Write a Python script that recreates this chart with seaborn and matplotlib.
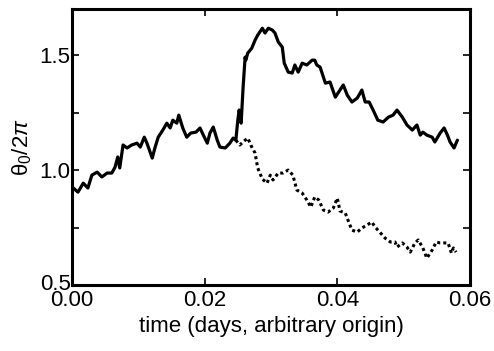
import numpy as np
import pandas as pd
import matplotlib
matplotlib.use("Agg")
import matplotlib.pyplot as plt
from matplotlib.ticker import MultipleLocator
from matplotlib.transforms import ScaledTranslation
import seaborn as sns

# Shared history before the two trajectories separate
t_common = [0.0002, 0.0009, 0.0017, 0.0024, 0.0030, 0.0038, 0.0045, 0.0053, 0.0060,
            0.0065, 0.0069, 0.0072, 0.0077, 0.0083, 0.0090, 0.0098, 0.0103, 0.0109,
            0.0113, 0.0121, 0.0125, 0.0130, 0.0137, 0.0143, 0.0148, 0.0152, 0.0158,
            0.0161, 0.0167, 0.0173, 0.0179, 0.0187, 0.0193, 0.0198, 0.0204, 0.0208,
            0.0213, 0.0219, 0.0223, 0.0231, 0.0238, 0.0243, 0.0247]
theta_common = [0.922, 0.904, 0.943, 0.922, 0.978, 0.991, 0.970, 0.987, 0.987,
                1.013, 1.057, 1.009, 1.109, 1.096, 1.109, 1.117, 1.100, 1.143,
                1.117, 1.052, 1.096, 1.143, 1.174, 1.204, 1.183, 1.217, 1.204,
                1.239, 1.183, 1.143, 1.161, 1.165, 1.183, 1.152, 1.117, 1.161,
                1.187, 1.130, 1.100, 1.096, 1.117, 1.139, 1.130]

# Branch with the phase jump (solid)
t_solid = [0.0250, 0.0252, 0.0255, 0.0258, 0.0261, 0.0262, 0.0265, 0.0271, 0.0276,
           0.0280, 0.0287, 0.0291, 0.0296, 0.0302, 0.0306, 0.0311, 0.0317, 0.0320,
           0.0326, 0.0332, 0.0336, 0.0341, 0.0347, 0.0354, 0.0362, 0.0366, 0.0369,
           0.0374, 0.0377, 0.0382, 0.0389, 0.0397, 0.0404, 0.0409, 0.0415, 0.0422,
           0.0430, 0.0437, 0.0442, 0.0448, 0.0454, 0.0461, 0.0469, 0.0477, 0.0484,
           0.0490, 0.0498, 0.0505, 0.0513, 0.0520, 0.0525, 0.0529, 0.0535, 0.0543,
           0.0547, 0.0555, 0.0561, 0.0566, 0.0570, 0.0576, 0.0581]
theta_solid = [1.217, 1.261, 1.204, 1.361, 1.491, 1.478, 1.509, 1.530, 1.565,
               1.587, 1.617, 1.596, 1.617, 1.609, 1.596, 1.557, 1.535, 1.465,
               1.426, 1.422, 1.457, 1.426, 1.465, 1.457, 1.478, 1.478, 1.457,
               1.448, 1.422, 1.378, 1.383, 1.317, 1.348, 1.370, 1.326, 1.296,
               1.313, 1.348, 1.296, 1.296, 1.261, 1.217, 1.209, 1.230, 1.239,
               1.261, 1.230, 1.196, 1.174, 1.196, 1.152, 1.165, 1.152, 1.143,
               1.122, 1.161, 1.183, 1.152, 1.122, 1.096, 1.130]

# Branch without the jump (dotted)
t_dotted = [0.0253, 0.0261, 0.0265, 0.0271, 0.0276, 0.0280, 0.0287, 0.0294, 0.0299,
            0.0303, 0.0311, 0.0318, 0.0326, 0.0333, 0.0339, 0.0347, 0.0354, 0.0360,
            0.0366, 0.0372, 0.0379, 0.0386, 0.0394, 0.0400, 0.0404, 0.0412, 0.0416,
            0.0422, 0.0430, 0.0437, 0.0445, 0.0452, 0.0457, 0.0464, 0.0472, 0.0480,
            0.0487, 0.0490, 0.0498, 0.0505, 0.0510, 0.0517, 0.0522, 0.0529, 0.0535,
            0.0543, 0.0549, 0.0555, 0.0562, 0.0567, 0.0572, 0.0575, 0.0579]
theta_dotted = [1.109, 1.130, 1.139, 1.100, 1.074, 1.009, 0.961, 0.943, 0.978,
                0.957, 0.987, 0.987, 1.000, 0.978, 0.913, 0.900, 0.870, 0.839,
                0.883, 0.870, 0.826, 0.817, 0.835, 0.878, 0.822, 0.813, 0.783,
                0.739, 0.730, 0.748, 0.761, 0.774, 0.752, 0.730, 0.704, 0.687,
                0.687, 0.665, 0.683, 0.665, 0.643, 0.683, 0.696, 0.661, 0.617,
                0.652, 0.687, 0.683, 0.683, 0.683, 0.639, 0.661, 0.643]

x_ticks = [0.00, 0.02, 0.04, 0.06]
x_ticklabels = ["0.00", "0.02", "0.04", "0.06"]
y_ticks = [0.5, 1.0, 1.5]
y_ticklabels = ["0.5", "1.0", "1.5"]

sns.set_theme(style="ticks")
plt.rcParams["font.family"] = ["Liberation Sans", "DejaVu Sans"]
plt.rcParams["mathtext.fontset"] = "custom"
plt.rcParams["mathtext.rm"] = "Liberation Sans"
plt.rcParams["mathtext.it"] = "Liberation Sans:italic"
for key in ("text.color", "axes.labelcolor", "xtick.color", "ytick.color",
            "xtick.labelcolor", "ytick.labelcolor"):
    plt.rcParams[key] = "black"

solid_df = pd.DataFrame({"t": t_common + t_solid, "theta": theta_common + theta_solid})
dotted_df = pd.DataFrame({"t": [t_common[-1]] + t_dotted,
                          "theta": [theta_common[-1]] + theta_dotted})

fig = plt.figure(figsize=(4.94, 3.51), dpi=100)
ax = fig.add_axes([0.1457, 0.188, 0.8057, 0.786])

sns.lineplot(data=dotted_df, x="t", y="theta", ax=ax, sort=False, estimator=None,
             color="black", lw=2.2, linestyle=(0, (1, 1.0)))
sns.lineplot(data=solid_df, x="t", y="theta", ax=ax, sort=False, estimator=None,
             color="black", lw=2.3)

ax.set_xlim(0, 0.06)
ax.set_ylim(0.5, 1.7)
ax.set_xticks(x_ticks)
ax.set_xticklabels(x_ticklabels)
ax.set_yticks(y_ticks)
ax.set_yticklabels(y_ticklabels)
ax.yaxis.set_minor_locator(MultipleLocator(0.25))

ax.tick_params(which="both", direction="in", top=True, right=True,
               length=5, width=1.2, labelsize=16, pad=1, color="black",
               labelcolor="black")
ax.tick_params(axis="x", pad=3.5)
for s in ax.spines.values():
    s.set_linewidth(2.2)
    s.set_color("black")

# nudge the bottom y label up a touch so it sits just above the first x label
low = ax.get_yticklabels()[0]
low.set_transform(low.get_transform() + ScaledTranslation(0, 0.03, fig.dpi_scale_trans))

ax.set_xlabel("time (days, arbitrary origin)", fontsize=16, labelpad=4)
ax.set_ylabel(r"$\mathrm{\theta_0/2}\pi$", fontsize=16, labelpad=4)

fig.savefig("out.png", dpi=100)
